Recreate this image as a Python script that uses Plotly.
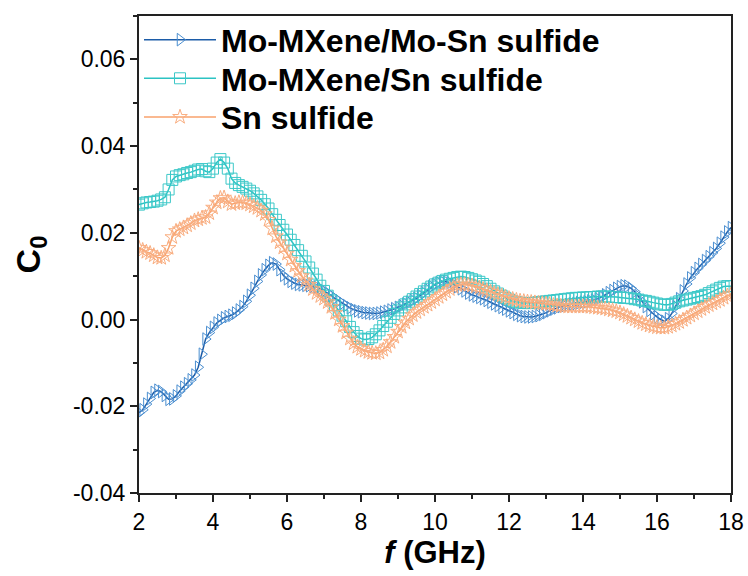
import plotly.graph_objects as go

# Frequency grid (GHz), 0.1 GHz step from 2 to 18
freq = [round(2.0 + 0.1 * i, 1) for i in range(161)]

c0_mo_mxene_mo_sn = [
    -0.0215, -0.0208, -0.0195, -0.0182, -0.0168, -0.0163, -0.0166, -0.0175, -0.0184, -0.0183,
    -0.0176, -0.0165, -0.0156, -0.0148, -0.0139, -0.0128, -0.0110, -0.0080, -0.0045, -0.0030,
    -0.0018, -0.0008, -0.0002, 0.0004, 0.0007, 0.0010, 0.0015, 0.0022, 0.0030, 0.0042,
    0.0056, 0.0072, 0.0088, 0.0103, 0.0115, 0.0125, 0.0131, 0.0128, 0.0115, 0.0102,
    0.0094, 0.0088, 0.0084, 0.0081, 0.0080, 0.0079, 0.0078, 0.0077, 0.0075, 0.0071,
    0.0066, 0.0061, 0.0055, 0.0049, 0.0043, 0.0037, 0.0032, 0.0027, 0.0023, 0.0020,
    0.0018, 0.0016, 0.0015, 0.0014, 0.0014, 0.0015, 0.0017, 0.0019, 0.0022, 0.0025,
    0.0028, 0.0032, 0.0036, 0.0040, 0.0044, 0.0049, 0.0055, 0.0062, 0.0069, 0.0076,
    0.0081, 0.0085, 0.0087, 0.0087, 0.0085, 0.0081, 0.0076, 0.0071, 0.0066, 0.0061,
    0.0057, 0.0054, 0.0051, 0.0048, 0.0044, 0.0040, 0.0036, 0.0032, 0.0028, 0.0024,
    0.0020, 0.0016, 0.0012, 0.0009, 0.0007, 0.0006, 0.0006, 0.0007, 0.0009, 0.0012,
    0.0016, 0.0020, 0.0024, 0.0027, 0.0030, 0.0032, 0.0034, 0.0036, 0.0037, 0.0039,
    0.0040, 0.0041, 0.0043, 0.0045, 0.0048, 0.0052, 0.0057, 0.0062, 0.0067, 0.0072,
    0.0076, 0.0078, 0.0077, 0.0072, 0.0064, 0.0053, 0.0041, 0.0030, 0.0021, 0.0013,
    0.0006, 0.0000, -0.0004, 0.0002, 0.0014, 0.0030, 0.0048, 0.0066, 0.0082, 0.0096,
    0.0108, 0.0118, 0.0127, 0.0136, 0.0145, 0.0154, 0.0164, 0.0176, 0.0190, 0.0202,
    0.0212,
]

c0_mo_mxene_sn = [
    0.0265, 0.0268, 0.0270, 0.0271, 0.0272, 0.0274, 0.0277, 0.0282, 0.0300, 0.0322,
    0.0330, 0.0333, 0.0335, 0.0338, 0.0340, 0.0343, 0.0346, 0.0347, 0.0342, 0.0340,
    0.0348, 0.0362, 0.0370, 0.0362, 0.0348, 0.0325, 0.0315, 0.0310, 0.0306, 0.0302,
    0.0297, 0.0291, 0.0284, 0.0276, 0.0266, 0.0256, 0.0243, 0.0230, 0.0218, 0.0207,
    0.0196, 0.0184, 0.0172, 0.0160, 0.0147, 0.0134, 0.0120, 0.0106, 0.0092, 0.0078,
    0.0066, 0.0055, 0.0044, 0.0033, 0.0021, 0.0009, -0.0004, -0.0017, -0.0029, -0.0038,
    -0.0044, -0.0046, -0.0045, -0.0041, -0.0034, -0.0025, -0.0015, -0.0005, 0.0004, 0.0013,
    0.0021, 0.0028, 0.0035, 0.0041, 0.0047, 0.0053, 0.0059, 0.0065, 0.0071, 0.0076,
    0.0081, 0.0085, 0.0089, 0.0092, 0.0094, 0.0096, 0.0098, 0.0099, 0.0098, 0.0096,
    0.0093, 0.0090, 0.0087, 0.0082, 0.0077, 0.0071, 0.0065, 0.0060, 0.0055, 0.0050,
    0.0046, 0.0042, 0.0040, 0.0039, 0.0038, 0.0038, 0.0038, 0.0039, 0.0040, 0.0041,
    0.0042, 0.0043, 0.0044, 0.0045, 0.0046, 0.0047, 0.0048, 0.0049, 0.0050, 0.0050,
    0.0051, 0.0051, 0.0052, 0.0052, 0.0053, 0.0053, 0.0053, 0.0053, 0.0052, 0.0052,
    0.0051, 0.0050, 0.0050, 0.0049, 0.0047, 0.0046, 0.0044, 0.0043, 0.0041, 0.0039,
    0.0037, 0.0035, 0.0034, 0.0034, 0.0036, 0.0039, 0.0042, 0.0044, 0.0046, 0.0048,
    0.0050, 0.0052, 0.0054, 0.0057, 0.0061, 0.0065, 0.0069, 0.0073, 0.0076, 0.0077,
    0.0077,
]

c0_sn_sulfide = [
    0.0165, 0.0160, 0.0156, 0.0153, 0.0148, 0.0143, 0.0142, 0.0148, 0.0165, 0.0190,
    0.0204, 0.0208, 0.0212, 0.0217, 0.0222, 0.0228, 0.0231, 0.0234, 0.0236, 0.0245,
    0.0258, 0.0270, 0.0280, 0.0281, 0.0272, 0.0266, 0.0268, 0.0270, 0.0270, 0.0268,
    0.0265, 0.0261, 0.0257, 0.0251, 0.0243, 0.0230, 0.0210, 0.0192, 0.0178, 0.0166,
    0.0152, 0.0138, 0.0124, 0.0112, 0.0100, 0.0090, 0.0080, 0.0070, 0.0061, 0.0054,
    0.0048, 0.0040, 0.0029, 0.0015, 0.0000, -0.0015, -0.0030, -0.0044, -0.0055, -0.0063,
    -0.0068, -0.0072, -0.0075, -0.0077, -0.0078, -0.0076, -0.0070, -0.0062, -0.0052, -0.0040,
    -0.0028, -0.0017, -0.0007, 0.0002, 0.0010, 0.0017, 0.0023, 0.0029, 0.0034, 0.0040,
    0.0046, 0.0052, 0.0058, 0.0064, 0.0070, 0.0075, 0.0079, 0.0081, 0.0081, 0.0080,
    0.0078, 0.0076, 0.0073, 0.0070, 0.0067, 0.0064, 0.0061, 0.0058, 0.0055, 0.0052,
    0.0049, 0.0047, 0.0045, 0.0043, 0.0042, 0.0041, 0.0040, 0.0039, 0.0038, 0.0037,
    0.0036, 0.0035, 0.0033, 0.0032, 0.0031, 0.0030, 0.0030, 0.0030, 0.0030, 0.0030,
    0.0030, 0.0030, 0.0029, 0.0028, 0.0027, 0.0026, 0.0025, 0.0023, 0.0021, 0.0019,
    0.0016, 0.0012, 0.0008, 0.0004, 0.0000, -0.0004, -0.0008, -0.0011, -0.0014, -0.0016,
    -0.0018, -0.0019, -0.0019, -0.0017, -0.0014, -0.0010, -0.0006, -0.0001, 0.0004, 0.0009,
    0.0014, 0.0019, 0.0024, 0.0029, 0.0033, 0.0037, 0.0041, 0.0045, 0.0050, 0.0055,
    0.0058,
]

x_ticks = [2, 4, 6, 8, 10, 12, 14, 16, 18]
y_ticks = [-0.04, -0.02, 0.00, 0.02, 0.04, 0.06]
y_tick_labels = ["-0.04", "-0.02", "0.00", "0.02", "0.04", "0.06"]

series = [
    ("Mo-MXene/Mo-Sn sulfide", c0_mo_mxene_mo_sn, "#1c5ca8", "#4a8ed0", "triangle-right-open"),
    ("Mo-MXene/Sn sulfide", c0_mo_mxene_sn, "#2cc3c3", "#3cc8c8", "square-open"),
    ("Sn sulfide", c0_sn_sulfide, "#f8a26c", "#f9ad7f", "star-open"),
]

# one legend box per series so the row spacing can be set exactly
legend_ids = ["legend", "legend2", "legend3"]
legend_rows_y = [0.950, 0.869, 0.788]

fig = go.Figure()
for (name, vals, line_col, mk_col, symbol), lid in zip(series, legend_ids):
    fig.add_trace(go.Scatter(
        x=freq, y=vals, name=name, mode="lines+markers", legend=lid,
        line=dict(color=line_col, width=1.5),
        marker=dict(symbol=symbol, size=11, color=mk_col,
                    line=dict(color=mk_col, width=1)),
    ))

font_family = "Liberation Sans, Arial, sans-serif"

legend_style = dict(
    x=0.0, xanchor="left", yanchor="middle",
    bgcolor="rgba(0,0,0,0)", borderwidth=0,
    font=dict(size=32, weight="bold", color="black"),
    itemwidth=72,
)

fig.update_layout(
    width=748, height=576,
    margin=dict(l=139, r=17, t=16, b=83),
    paper_bgcolor="white", plot_bgcolor="white",
    font=dict(family=font_family, color="black", size=20),
    showlegend=True,
    legend=dict(y=legend_rows_y[0], **legend_style),
    legend2=dict(y=legend_rows_y[1], **legend_style),
    legend3=dict(y=legend_rows_y[2], **legend_style),
)

fig.update_xaxes(
    range=[2, 18], tickvals=x_ticks, ticks="outside", ticklen=7, tickwidth=2,
    tickcolor="#222", showline=True, linewidth=2, linecolor="#222", mirror=True,
    showgrid=False, zeroline=False, automargin=False,
    tickfont=dict(size=23),
    minor=dict(ticks="outside", ticklen=4, tickwidth=2, tickcolor="#222", dtick=1, showgrid=False),
    title=dict(text="<i>f</i> (GHz)", font=dict(size=31, weight="bold"), standoff=0),
)
fig.update_yaxes(
    range=[-0.04, 0.07], tickvals=y_ticks, ticktext=y_tick_labels,
    ticks="outside", ticklen=7, tickwidth=2, tickcolor="#222",
    showline=True, linewidth=2, linecolor="#222", mirror=True,
    showgrid=False, zeroline=False, automargin=False,
    tickfont=dict(size=23),
    minor=dict(ticks="outside", ticklen=4, tickwidth=2, tickcolor="#222", dtick=0.01, showgrid=False),
    title=dict(text="C<sub>0</sub>", font=dict(size=34, weight="bold"), standoff=22),
)

fig.write_html("out.html")
